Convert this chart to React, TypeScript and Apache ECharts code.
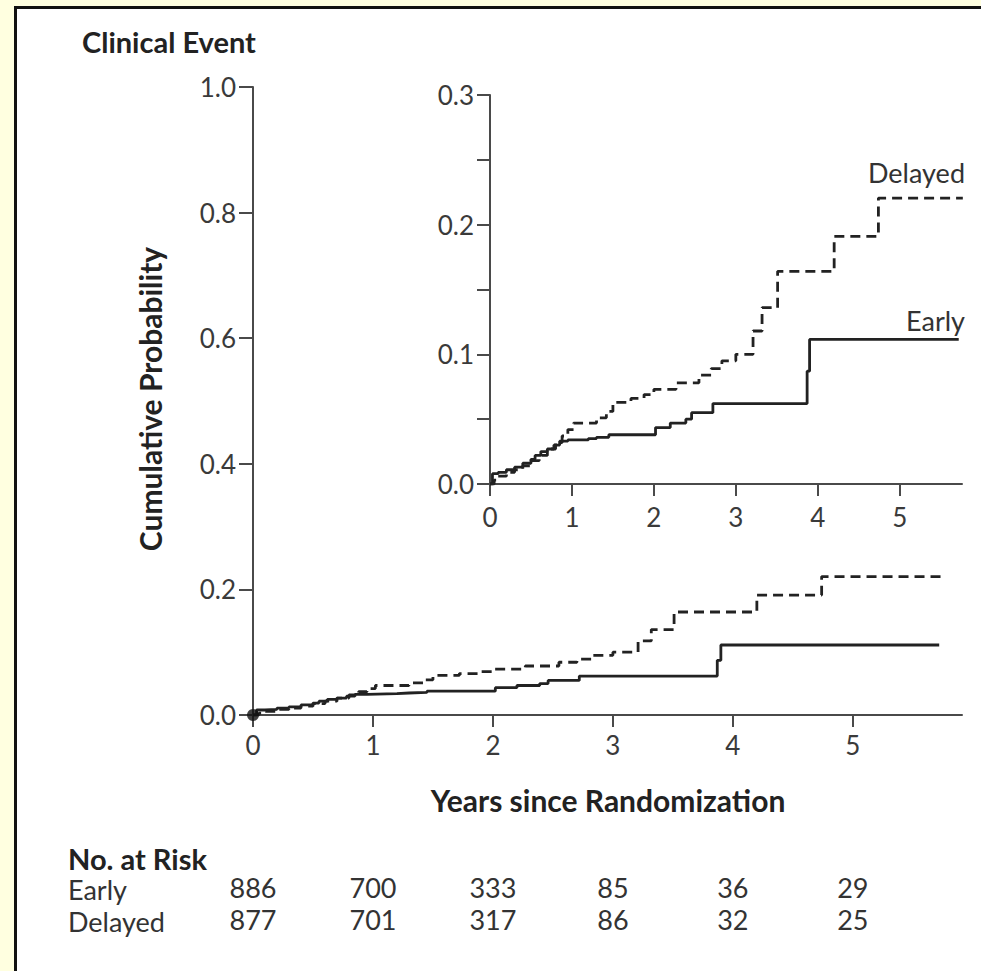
import React, { useEffect, useRef } from "react";
import * as echarts from "echarts";

// Kaplan–Meier style cumulative probability of a clinical event
const earlyTimes = [0, 0.03, 0.1, 0.2, 0.3, 0.4, 0.5, 0.55, 0.62, 0.7, 0.78, 0.85, 0.95, 1.2, 1.3, 1.45, 2.02, 2.2, 2.39, 2.46, 2.72, 3.87, 3.9, 5.72];
const earlyProb = [0, 0.008, 0.009, 0.011, 0.013, 0.016, 0.019, 0.022, 0.025, 0.027, 0.03, 0.033, 0.034, 0.035, 0.036, 0.038, 0.0435, 0.047, 0.05, 0.055, 0.062, 0.087, 0.1115, 0.1115];

const delayedTimes = [0, 0.05, 0.1, 0.2, 0.3, 0.4, 0.5, 0.6, 0.7, 0.8, 0.88, 0.95, 1.02, 1.3, 1.42, 1.5, 1.72, 1.88, 2.0, 2.27, 2.55, 2.7, 2.83, 3.0, 3.21, 3.32, 3.51, 4.2, 4.74, 5.77];
const delayedProb = [0, 0.003, 0.006, 0.009, 0.011, 0.014, 0.018, 0.022, 0.027, 0.032, 0.037, 0.042, 0.047, 0.051, 0.056, 0.063, 0.066, 0.069, 0.073, 0.078, 0.084, 0.089, 0.095, 0.1, 0.118, 0.136, 0.164, 0.191, 0.2205, 0.2205];

const yearTicks = [0, 1, 2, 3, 4, 5];
const insetProbTicks = [0, 0.1, 0.2, 0.3];
const riskEarly = [886, 700, 333, 85, 36, 29];
const riskDelayed = [877, 701, 317, 86, 32, 25];

const FONT = "Lato, 'Open Sans', sans-serif";
const INK = "#222";
const AXIS = "#4a4a4a";

const zip = (t: number[], p: number[]) => t.map((x, i) => [x, p[i]]);

export default function App() {
  const ref = useRef<HTMLDivElement>(null);

  useEffect(() => {
    if (!ref.current) return;
    const chart = echarts.init(ref.current, undefined, { renderer: "svg" });

    const axisLine = { show: true, onZero: false, lineStyle: { color: AXIS, width: 2 } };
    const tickStyle = { color: AXIS, width: 2 };
    const labelBase = { fontFamily: FONT, fontSize: 26, color: "#3a3a3a" };

    const xAxisFor = (grid: number, max: number, margin: number) => ({
      type: "value",
      gridIndex: grid,
      min: 0,
      max,
      axisLine,
      splitLine: { show: false },
      axisTick: { show: true, length: 12, lineStyle: tickStyle, customValues: yearTicks },
      axisLabel: { ...labelBase, margin, customValues: yearTicks, formatter: (v: number) => String(v) },
    });

    const riskAxis = (offset: number, counts: number[]) => ({
      type: "value",
      gridIndex: 0,
      min: 0,
      max: 5.91,
      offset,
      position: "bottom",
      axisLine: { show: false, onZero: false },
      axisTick: { show: false },
      splitLine: { show: false },
      axisLabel: {
        ...labelBase,
        fontSize: 27,
        color: "#333",
        margin: 0,
        customValues: yearTicks,
        formatter: (v: number) => String(counts[Math.round(v)]),
      },
    });

    const stepLine = (name: string, data: number[][], xi: number, dashed: boolean) => ({
      name,
      type: "line",
      xAxisIndex: xi,
      yAxisIndex: xi,
      step: "end",
      data,
      showSymbol: false,
      symbol: "none",
      lineStyle: { color: INK, width: 2.8, type: dashed ? [10, 6] : "solid" },
      z: 3,
    });

    const text = (t: string, x: number, y: number, opts: any = {}) => ({
      type: "text",
      x,
      y,
      z: 10,
      style: {
        text: t,
        fontFamily: FONT,
        fontSize: opts.size ?? 27,
        fontWeight: opts.bold ? "bold" : "normal",
        fill: opts.fill ?? INK,
        textAlign: opts.align ?? "left",
        textVerticalAlign: "middle",
      },
      rotation: opts.rotation ?? 0,
    });

    chart.setOption({
      animation: false,
      backgroundColor: "#FFFFE0",
      grid: [
        { left: 253, top: 87, right: 19, bottom: 256, outerBoundsMode: "none" },
        { left: 490, top: 95, right: 19, bottom: 487, outerBoundsMode: "none" },
      ],
      xAxis: [
        xAxisFor(0, 5.91, 17),
        xAxisFor(1, 5.76, 20),
        riskAxis(159, riskEarly),
        riskAxis(191, riskDelayed),
      ],
      yAxis: [
        {
          type: "value",
          gridIndex: 0,
          min: 0,
          max: 1,
          interval: 0.2,
          axisLine,
          splitLine: { show: false },
          axisTick: { show: true, length: 14, lineStyle: tickStyle },
          axisLabel: { ...labelBase, margin: 17, formatter: (v: number) => v.toFixed(1) },
        },
        {
          type: "value",
          gridIndex: 1,
          min: 0,
          max: 0.3,
          interval: 0.05,
          axisLine,
          splitLine: { show: false },
          axisTick: { show: true, length: 13, lineStyle: tickStyle },
          axisLabel: {
            ...labelBase,
            margin: 16,
            customValues: insetProbTicks,
            formatter: (v: number) => v.toFixed(1),
          },
        },
      ],
      series: [
        stepLine("Early", zip(earlyTimes, earlyProb), 0, false),
        stepLine("Delayed", zip(delayedTimes, delayedProb), 0, true),
        stepLine("Early inset", zip(earlyTimes, earlyProb), 1, false),
        stepLine("Delayed inset", zip(delayedTimes, delayedProb), 1, true),
        {
          type: "scatter",
          xAxisIndex: 0,
          yAxisIndex: 0,
          data: [[0, 0]],
          symbolSize: 12,
          itemStyle: { color: "#111" },
          clip: false,
          z: 4,
        },
      ],
      graphic: [
        { type: "rect", z: -2, shape: { x: 14, y: 6, width: 981, height: 971 }, style: { fill: "#111" } },
        { type: "rect", z: -1, shape: { x: 17, y: 9, width: 981, height: 971 }, style: { fill: "#fff" } },
        text("Clinical Event", 82, 41, { bold: true, size: 29 }),
        { ...text("Cumulative Probability", 150, 399, { bold: true, size: 30, align: "center" }), rotation: Math.PI / 2 },
        text("Years since Randomization", 608, 800, { bold: true, size: 30, align: "center" }),
        text("Delayed", 965, 172, { size: 27, align: "right", fill: "#333" }),
        text("Early", 965, 320, { size: 27, align: "right", fill: "#333" }),
        text("No. at Risk", 68, 858, { bold: true, size: 29 }),
        text("Early", 68, 889, { size: 27, fill: "#333" }),
        text("Delayed", 68, 921, { size: 27, fill: "#333" }),
      ],
    });

    return () => chart.dispose();
  }, []);

  return <div ref={ref} style={{ position: "fixed", left: 0, top: 0, width: 981, height: 971 }} />;
}
